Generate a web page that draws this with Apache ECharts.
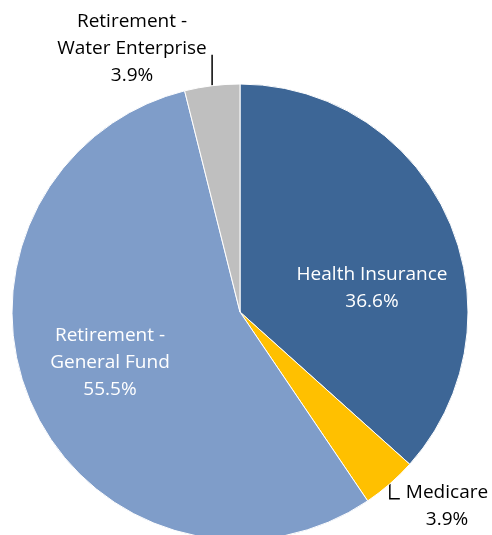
<!DOCTYPE html>
<html>
<head>
<meta charset="utf-8">
<script src="https://cdn.jsdelivr.net/npm/echarts@6/dist/echarts.min.js"></script>
<style>
html,body{margin:0;padding:0;background:#fff;}
#chart{width:492px;height:535px;}
</style>
</head>
<body>
<div id="chart"></div>
<script>
var categories = ['Health Insurance', 'Medicare', 'Retirement - General Fund', 'Retirement - Water Enterprise'];
var labelTexts = ['Health Insurance', 'Medicare', 'Retirement -\nGeneral Fund', 'Retirement -\nWater Enterprise'];
var values = [36.6, 3.9, 55.5, 3.9];
var colors = ['#3D6696', '#FFC000', '#7F9DC9', '#BFBFBF'];

// label placement (style/layout, not data)
var labelPos = [
  {x: 372, y: 288, inside: true},
  {x: 447, y: 506, inside: false, line: 'L'},
  {x: 110, y: 363, inside: true},
  {x: 132, y: 49, inside: false, line: 'up'}
];

var chart = echarts.init(document.getElementById('chart'), null, {renderer: 'canvas'});

var data = categories.map(function (c, i) {
  return {
    name: c,
    value: values[i],
    itemStyle: {color: colors[i]},
    label: {
      position: labelPos[i].inside ? 'inside' : 'outside',
      color: labelPos[i].inside ? '#ffffff' : '#000000'
    },
    labelLine: {show: !labelPos[i].inside}
  };
});

chart.setOption({
  animation: false,
  backgroundColor: '#ffffff',
  series: [{
    type: 'pie',
    center: [240, 312],
    radius: 228,
    startAngle: 90,
    clockwise: true,
    avoidLabelOverlap: false,
    itemStyle: {borderColor: '#ffffff', borderWidth: 1},
    label: {
      fontFamily: 'Open Sans',
      fontSize: 19,
      lineHeight: 27,
      align: 'center',
      formatter: function (p) {
        return labelTexts[p.dataIndex] + '\n' + p.value.toFixed(1) + '%';
      }
    },
    labelLine: {
      lineStyle: {color: '#000000', width: 1.5},
      length: 15,
      length2: 10
    },
    labelLayout: function (params) {
      var lp = labelPos[params.dataIndex];
      var res = {x: lp.x, y: lp.y, align: 'center', verticalAlign: 'middle'};
      if (!lp.inside && params.labelLinePoints) {
        var p0 = params.labelLinePoints[0];
        if (lp.line === 'L') {
          res.labelLinePoints = [p0, [p0[0], p0[1] + 15], [p0[0] + 10, p0[1] + 15]];
        } else {
          res.labelLinePoints = [p0, [p0[0], p0[1] - 31], [p0[0], p0[1] - 31]];
        }
      }
      return res;
    },
    data: data
  }]
});
</script>
</body>
</html>
